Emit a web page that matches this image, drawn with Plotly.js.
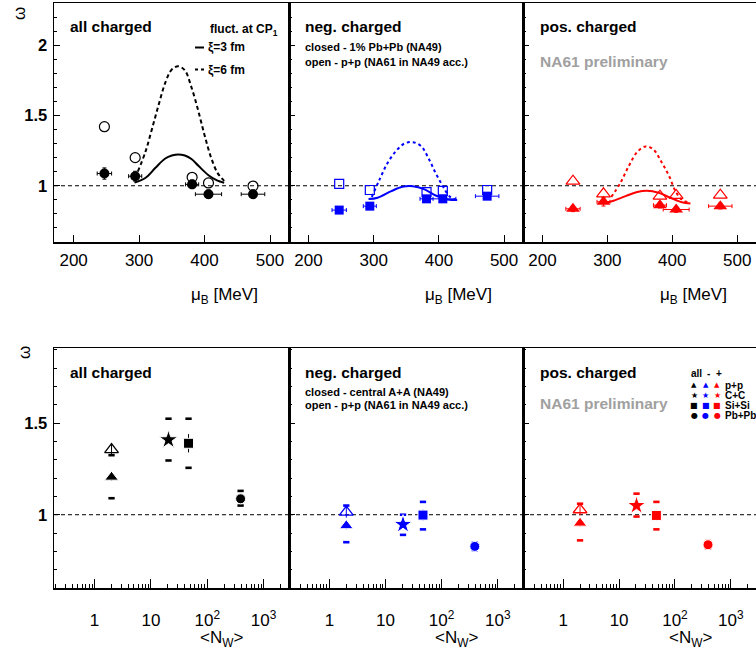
<!DOCTYPE html>
<html><head><meta charset="utf-8">
<script src="https://cdn.plot.ly/plotly-3.0.1.min.js"></script>
<style>html,body{margin:0;padding:0;background:#fff}#chart{width:756px;height:652px}</style>
</head><body><div id="chart"></div>
<script>
// ---------- DATA: top row (omega vs mu_B) ----------
const muB      = [247, 294, 381, 406, 474];
const muErr    = [11, 10, 10, 20, 18];
const allClosed = [1.087, 1.068, 1.010, 0.940, 0.940];
const allClosedErr = [0.04, 0.035, 0.03, 0.03, 0.03];
const allOpen   = [1.420, 1.200, 1.060, 1.020, 0.998];
const negClosed = [0.827, 0.855, 0.907, 0.907, 0.926];
const negClosedErr = [0.02, 0.02, 0.02, 0.02, 0.02];
const negOpen   = [1.014, 0.970, 0.955, 0.964, 0.970];
const posClosed = [0.836, 0.886, 0.862, 0.831, 0.855];
const posClosedErr = [0.02, 0.03, 0.02, 0.02, 0.02];
const posOpen   = [1.033, 0.943, 0.926, 0.931, 0.933];

// critical point model curves
const allXi6X = [298, 310, 320, 330, 340, 350, 360, 370, 380, 390, 400, 410, 420, 430];
const allXi6Y = [1.100, 1.246, 1.410, 1.578, 1.733, 1.827, 1.850, 1.820, 1.700, 1.540, 1.360, 1.200, 1.090, 1.035];
const allXi3X = [293, 310, 325, 340, 350, 360, 370, 380, 391, 406, 419, 430];
const allXi3Y = [1.022, 1.057, 1.128, 1.194, 1.215, 1.223, 1.215, 1.190, 1.140, 1.075, 1.038, 1.022];
const negXi6X = [297, 309, 321, 334, 347, 360, 373, 385, 395, 406, 416, 427];
const negXi6Y = [0.920, 1.045, 1.160, 1.246, 1.300, 1.310, 1.280, 1.187, 1.090, 0.997, 0.926, 0.898];
const negXi3X = [292, 306, 327, 344, 360, 378, 395, 413, 428];
const negXi3Y = [0.905, 0.915, 0.962, 0.993, 0.997, 0.974, 0.931, 0.903, 0.898];
const posXi6X = [306, 320, 333, 346, 359, 371, 384, 395, 405, 415, 428];
const posXi6Y = [0.920, 1.020, 1.140, 1.240, 1.280, 1.258, 1.164, 1.070, 0.962, 0.900, 0.880];
const posXi3X = [292, 307, 328, 346, 361, 379, 397, 415, 428];
const posXi3Y = [0.876, 0.890, 0.926, 0.955, 0.964, 0.950, 0.915, 0.883, 0.874];

// ---------- DATA: bottom row (omega vs <N_W>) ----------
const systems = ['p+p', 'C+C', 'Si+Si', 'Pb+Pb'];
const nW      = [2, 20.5, 46.5, 390];
const allSys  = [1.205, 1.409, 1.390, 1.087];
const allStat = [0.02, 0.02, 0.05, 0.015];
const allSysUp  = [0.120, 0.115, 0.134, 0.043];
const allSysLow = [0.115, 0.113, 0.134, 0.037];
const negSys  = [0.940, 0.947, 0.998, 0.827];
const negStat = [0.02, 0.02, 0.03, 0.01];
const negSysUp  = [0.110, 0.053, 0.072, 0.02];
const negSysLow = [0.090, 0.057, 0.078, 0.02];
const posSys  = [0.954, 1.050, 0.996, 0.836];
const posStat = [0.02, 0.02, 0.03, 0.01];
const posSysUp  = [0.106, 0.065, 0.074, 0.02];
const posSysLow = [0.094, 0.060, 0.076, 0.02];
const ppNA61X   = [2];
const ppNA61All = [1.355];
const ppNA61Neg = [1.014];
const ppNA61Pos = [1.027];
const ppNA61Err = [0.03];

const majorLogTicks = [1, 10, 100, 1000];
const majorLogText  = ['1', '10', '10<sup>2</sup>', '10<sup>3</sup>'];
const muTicks = [200, 300, 400, 500];

// ---------- STYLE ----------
const FONT = 'Liberation Sans, Arial, Helvetica, sans-serif';
const BLACK = '#000000', BLUE = '#0000ff', RED = '#ff0000';
const W = 756, H = 652;
const px = p => p / W;
const py = p => 1 - p / H;

const xd = [[54 / W, 289 / W], [289 / W, 523 / W], [523 / W, 1]];
const ydTop = [py(242), py(3)];
const ydBot = [py(588), py(348)];

const traces = [];
const groupsTop = [
  {c: BLACK, sym: 'circle', size: 10, closed: allClosed, cerr: allClosedErr, open: allOpen, x6: allXi6X, y6: allXi6Y, x3: allXi3X, y3: allXi3Y},
  {c: BLUE, sym: 'square', size: 9, closed: negClosed, cerr: negClosedErr, open: negOpen, x6: negXi6X, y6: negXi6Y, x3: negXi3X, y3: negXi3Y},
  {c: RED, sym: 'triangle-up', size: 12, closed: posClosed, cerr: posClosedErr, open: posOpen, x6: posXi6X, y6: posXi6Y, x3: posXi3X, y3: posXi3Y}
];
groupsTop.forEach((g, i) => {
  const xa = 'x' + (i === 0 ? '' : i + 1), ya = 'y' + (i === 0 ? '' : i + 1);
  traces.push({type: 'scatter', mode: 'lines', x: g.x6, y: g.y6, xaxis: xa, yaxis: ya,
    line: {color: g.c, width: 2, dash: i === 0 ? '4px,3px' : '3px,3px', shape: 'spline'}, hoverinfo: 'skip'});
  traces.push({type: 'scatter', mode: 'lines', x: g.x3, y: g.y3, xaxis: xa, yaxis: ya,
    line: {color: g.c, width: 2, shape: 'spline'}, hoverinfo: 'skip'});
  traces.push({type: 'scatter', mode: 'markers', x: muB, y: g.open, xaxis: xa, yaxis: ya,
    marker: {symbol: g.sym + '-open', size: g.size, color: g.c, opacity: 1, line: {width: 1.2, color: g.c}}});
  traces.push({type: 'scatter', mode: 'markers', x: muB, y: g.closed, xaxis: xa, yaxis: ya,
    error_x: {type: 'data', array: muErr, color: g.c, thickness: 1, width: 2},
    error_y: {type: 'data', array: g.cerr, color: g.c, thickness: 1, width: 2},
    marker: {symbol: g.sym, size: g.size, color: g.c, opacity: 1}});
});

const groupsBot = [
  {c: BLACK, v: allSys, st: allStat, up: allSysUp, lo: allSysLow, pp: ppNA61All},
  {c: BLUE, v: negSys, st: negStat, up: negSysUp, lo: negSysLow, pp: ppNA61Neg},
  {c: RED, v: posSys, st: posStat, up: posSysUp, lo: posSysLow, pp: ppNA61Pos}
];
const botSymbols = ['triangle-up', 'star', 'square', 'circle'];
const botSizes = [12, 14, 10, 10];
groupsBot.forEach((g, i) => {
  const xa = 'x' + (i + 4), ya = 'y' + (i + 4);
  traces.push({type: 'scatter', mode: 'markers', xaxis: xa, yaxis: ya,
    x: nW.concat(nW), y: g.v.map((v, k) => v + g.up[k]).concat(g.v.map((v, k) => v - g.lo[k])),
    marker: {symbol: 'line-ew', size: 4.5, color: g.c, opacity: 1, line: {width: 2.6, color: g.c}}, hoverinfo: 'skip'});
  traces.push({type: 'scatter', mode: 'markers', xaxis: xa, yaxis: ya, x: ppNA61X, y: g.pp,
    error_y: {type: 'data', array: ppNA61Err, color: g.c, thickness: 1, width: 0},
    marker: {symbol: 'triangle-up-open', size: 12, color: g.c, opacity: 1, line: {width: 1.3, color: g.c}}});
  traces.push({type: 'scatter', mode: 'markers', xaxis: xa, yaxis: ya, x: nW, y: g.v, text: systems,
    error_y: {type: 'data', array: g.st, color: g.c, thickness: 1, width: 0},
    marker: {symbol: botSymbols, size: botSizes, color: g.c, opacity: 1}});
});

// ---------- AXES ----------
function base() {
  return {showline: true, linecolor: 'black', linewidth: 1.5, mirror: true, ticks: 'inside',
    tickcolor: 'black', tickwidth: 1, showgrid: false, zeroline: false, fixedrange: true, automargin: false};
}
const minorLog = [];
[0.1, 1, 10, 100, 1000].forEach(d => { for (let k = 2; k <= 9; k++) minorLog.push(k * d); });

const layout = {
  width: W, height: H, margin: {l: 0, r: 0, t: 0, b: 0}, showlegend: false,
  paper_bgcolor: 'white', plot_bgcolor: 'white', font: {family: FONT, color: 'black'},
  shapes: [], annotations: []
};
for (let i = 0; i < 3; i++) {
  const n = i === 0 ? '' : String(i + 1);
  const m = String(i + 4);
  layout['xaxis' + n] = Object.assign(base(), {domain: xd[i], anchor: 'y' + n, range: [170, 529],
    tickmode: 'array', tickvals: muTicks, ticklen: 7, tickfont: {size: 17, family: FONT}, ticklabelstandoff: 2});
  layout['yaxis' + n] = Object.assign(base(), {domain: ydTop, anchor: 'x' + n, range: [0.6, 2.3],
    tickmode: 'linear', tick0: 0, dtick: 0.5, ticklen: 6, showticklabels: i === 0,
    minor: {dtick: 0.1, tick0: 0, ticklen: 3, ticks: 'inside', tickcolor: 'black'},
    tickfont: {size: 16.5, family: FONT, weight: 'bold'}, ticklabelstandoff: 2});
  layout['xaxis' + m] = Object.assign(base(), {domain: xd[i], anchor: 'y' + m, type: 'log', range: [-0.72, 3.45],
    tickmode: 'array', tickvals: majorLogTicks, ticktext: majorLogText, ticklen: 9,
    minor: {tickmode: 'array', tickvals: minorLog, ticklen: 4, ticks: 'inside', tickcolor: 'black'},
    tickfont: {size: 17, family: FONT}, ticklabelstandoff: 16});
  layout['yaxis' + m] = Object.assign(base(), {domain: ydBot, anchor: 'x' + m, range: [0.6, 1.91],
    tickmode: 'linear', tick0: 0, dtick: 0.5, ticklen: 6, showticklabels: i === 0,
    minor: {dtick: 0.1, tick0: 0, ticklen: 3, ticks: 'inside', tickcolor: 'black'},
    tickfont: {size: 16.5, family: FONT, weight: 'bold'}, ticklabelstandoff: 2});
  if (i === 2) { layout['yaxis' + n].mirror = false; layout['yaxis' + m].mirror = false; }
  // reference line omega = 1
  [n, m].forEach(a => layout.shapes.push({type: 'line', xref: 'x' + a + ' domain', x0: 0, x1: 1,
    yref: 'y' + a, y0: 1, y1: 1, line: {color: 'black', width: 1, dash: '4px,3px'}, layer: 'below'}));
}

// ---------- TEXT ----------
function txt(x, y, text, size, o) {
  o = o || {};
  layout.annotations.push({xref: 'paper', yref: 'paper', x: px(x), y: py(y), text: text, showarrow: false,
    xanchor: o.xa || 'left', yanchor: 'middle', textangle: o.rot || 0,
    font: {family: o.fam || FONT, size: size, color: o.color || 'black', weight: o.bold === false ? 'normal' : 'bold'}});
}
const panelLeft = [54, 289, 523];
panelLeft.forEach(L => {
  txt(L + 170, 296, '\u03bc<sub>B</sub> [MeV]', 17, {xa: 'center', bold: false});
  txt(L + 167, 639, '&lt;N<sub>W</sub>&gt;', 17, {xa: 'center', bold: false});
});
txt(20, 14, '\u03c9', 17, {xa: 'center', rot: -90, bold: false});
txt(24, 353, '\u03c9', 17, {xa: 'center', rot: -90, bold: false});

txt(68, 27, 'all charged', 15.5);
txt(280, 30, 'fluct. at CP<sub>1</sub>', 12, {xa: 'right'});
txt(206, 47.5, '\u03be=3 fm', 12);
txt(206, 69.5, '\u03be=6 fm', 12);
layout.shapes.push({type: 'line', xref: 'paper', yref: 'paper', x0: px(195), x1: px(204), y0: py(47.5), y1: py(47.5), line: {color: 'black', width: 2}});
layout.shapes.push({type: 'line', xref: 'paper', yref: 'paper', x0: px(195), x1: px(205), y0: py(69.5), y1: py(69.5), line: {color: 'black', width: 2, dash: '3px,3px'}});

txt(303, 27, 'neg. charged', 15.5);
txt(303, 47, 'closed - 1% Pb+Pb (NA49)', 11);
txt(303, 62, 'open - p+p (NA61 in NA49 acc.)', 11);
txt(538, 27, 'pos. charged', 15.5);
txt(538, 61, 'NA61 preliminary', 15.5, {color: '#a0a0a0'});

txt(68, 372, 'all charged', 15.5);
txt(303, 372, 'neg. charged', 15.5);
txt(303, 391.5, 'closed - central A+A (NA49)', 11);
txt(303, 405, 'open - p+p (NA61 in NA49 acc.)', 11);
txt(538, 372, 'pos. charged', 15.5);
txt(538, 403, 'NA61 preliminary', 15.5, {color: '#a0a0a0'});

// legend (bottom right)
txt(696, 373, 'all', 10, {xa: 'center'});
txt(708, 373, '-', 10, {xa: 'center'});
txt(718.5, 373, '+', 10, {xa: 'center'});
const glyphs = ['\u25b2', '\u2605', '\u25a0', '\u25cf'];
const glyphSize = [7, 8, 8, 8];
const legCols = [[694, BLACK], [705.7, BLUE], [717.3, RED]];
systems.forEach((s, k) => {
  const yy = 385 + 10 * k;
  legCols.forEach(cc => txt(cc[0], yy, glyphs[k], glyphSize[k], {xa: 'center', color: cc[1], fam: 'DejaVu Sans', bold: false}));
  txt(723, yy, s, 10);
});

Plotly.newPlot('chart', traces, layout, {staticPlot: true, displayModeBar: false});
</script></body></html>
